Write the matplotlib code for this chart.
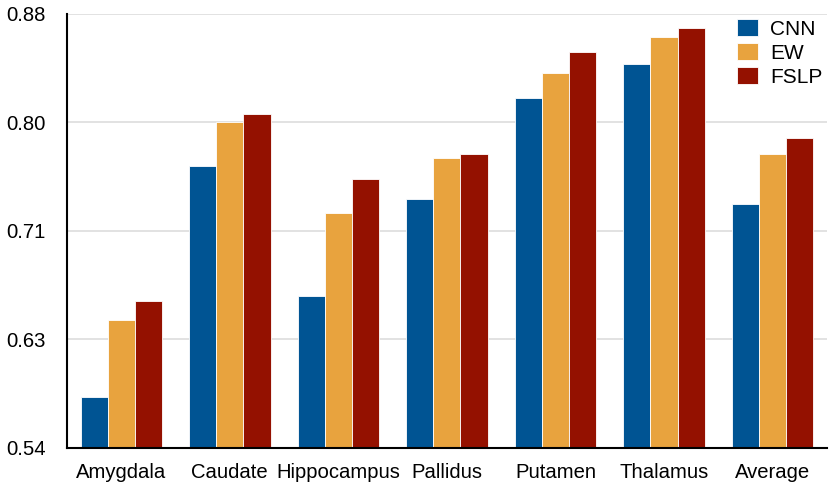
import numpy as np
import matplotlib
matplotlib.use('Agg')
import matplotlib.pyplot as plt

plt.rcParams['font.family'] = ['Liberation Sans', 'DejaVu Sans']

regions = ['Amygdala', 'Caudate', 'Hippocampus', 'Pallidus', 'Putamen', 'Thalamus', 'Average']
cnn = [0.580, 0.761, 0.659, 0.735, 0.814, 0.841, 0.731]
ew = [0.640, 0.795, 0.724, 0.767, 0.834, 0.862, 0.770]
fslp = [0.655, 0.802, 0.751, 0.770, 0.850, 0.869, 0.783]
y_ticks = [0.54, 0.625, 0.71, 0.795, 0.88]
y_tick_labels = ['0.54', '0.63', '0.71', '0.80', '0.88']

colors = {'CNN': '#005493', 'EW': '#E8A33E', 'FSLP': '#941100'}

fig = plt.figure(figsize=(8.31, 4.87), dpi=100)
ax = fig.add_axes([0.0806, 0.0801, 0.9144, 0.8912])

x = np.arange(len(regions))
w = 0.25
for i, (name, vals) in enumerate([('CNN', cnn), ('EW', ew), ('FSLP', fslp)]):
    ax.bar(x + (i - 1) * w, vals, width=w, color=colors[name], label=name,
           edgecolor='white', linewidth=0.6, zorder=3)

ax.set_xlim(-0.5, len(regions) - 0.5)
ax.set_ylim(0.54, 0.88)
ax.set_yticks(y_ticks)
ax.set_yticklabels(y_tick_labels)
ax.set_xticks(x)
ax.set_xticklabels(regions)
ax.tick_params(axis='both', length=0, labelsize=14.6)
ax.tick_params(axis='y', pad=15.5)
ax.tick_params(axis='x', pad=11)

ax.grid(axis='y', color='#dddddd', linewidth=1.2, zorder=0)
for side in ['top', 'right']:
    ax.spines[side].set_visible(False)
for side in ['left', 'bottom']:
    ax.spines[side].set_linewidth(1.5)
    ax.spines[side].set_color('black')
    ax.spines[side].set_zorder(4)

ax.legend(loc='upper right', bbox_to_anchor=(1.008, 1.013), frameon=False,
          fontsize=15, handlelength=1.0, handleheight=0.9, handletextpad=0.6,
          labelspacing=0.2, borderaxespad=0.1)

fig.savefig('out.png', dpi=100)
